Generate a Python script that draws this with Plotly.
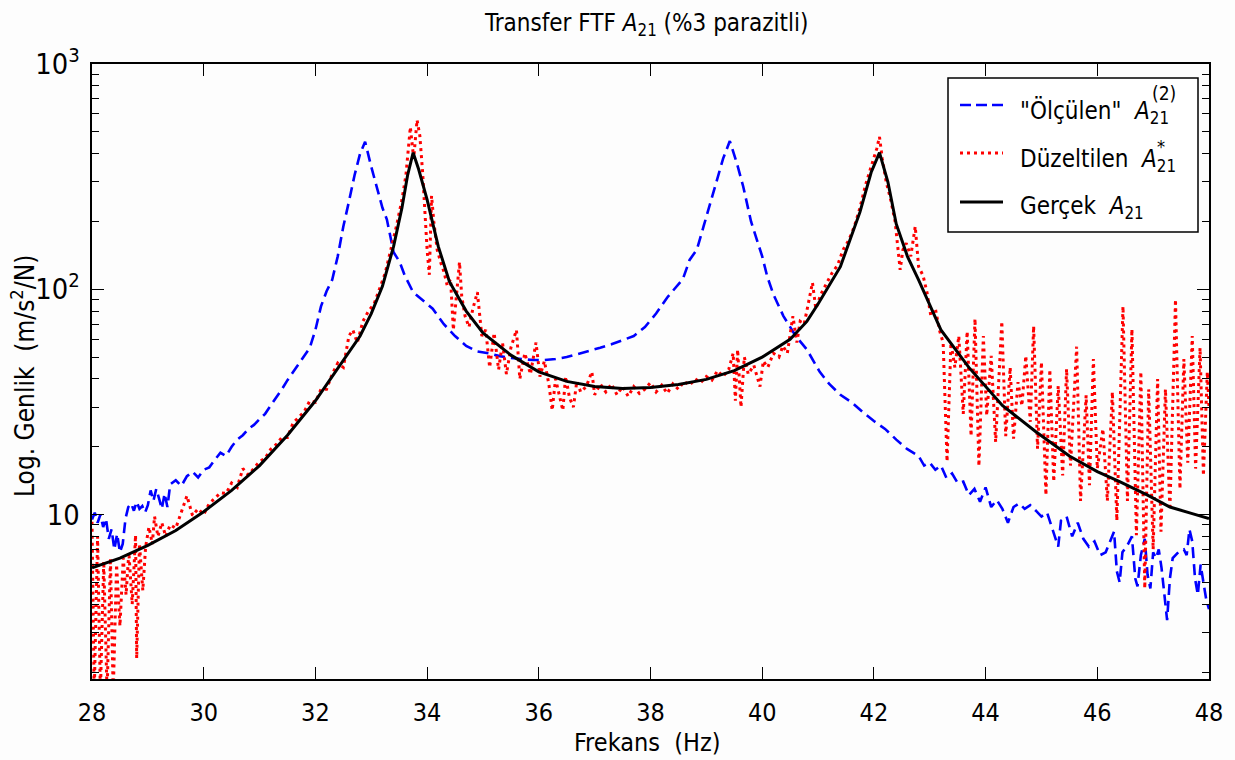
import plotly.graph_objects as go

# ---------------- data ----------------
# True FRF A21 (smooth)
true_freq = [28.0, 28.5, 29.0, 29.5, 30.0, 30.5, 31.0, 31.5, 32.0, 32.5, 32.8, 33.0, 33.2, 33.4,
             33.55, 33.65, 33.75, 33.85, 34.0, 34.2, 34.4, 34.7, 35.0, 35.5, 36.0, 36.5, 37.0,
             37.5, 38.0, 38.5, 39.0, 39.5, 40.0, 40.5, 40.8, 41.0, 41.4, 41.75, 41.95, 42.1,
             42.25, 42.4, 42.6, 42.8, 43.06, 43.2, 43.7, 44.3, 44.9, 45.5, 46.0, 46.4, 46.9,
             47.3, 47.7, 48.0]
true_amp = [5.8, 6.4, 7.3, 8.5, 10.3, 12.8, 16.5, 22.5, 32, 48, 62, 78, 103, 155,
            230, 320, 404, 340, 250, 155, 108, 80, 64, 51, 43, 39, 37,
            36.3, 36.6, 37.8, 39.8, 43.5, 50, 60, 72, 86, 126, 220, 330, 404,
            300, 195, 140, 110, 79, 66, 45, 30.5, 23.3, 18.2, 15.5, 14.0, 12.2,
            10.8, 10.1, 9.6]

# "Measured" FRF A21^(2)
meas_freq = [28.00, 28.05, 28.10, 28.15, 28.20, 28.25, 28.30, 28.35, 28.40, 28.45, 28.50, 28.55,
             28.60, 28.65, 28.70, 28.75, 28.80, 28.85, 28.90, 28.95, 29.00, 29.05, 29.10, 29.15,
             29.20, 29.25, 29.30, 29.35, 29.40, 29.50, 29.60, 29.70, 29.80, 29.90, 30.00, 30.10,
             30.20, 30.30, 30.40, 30.50, 30.60, 30.70, 30.80, 30.90, 31.00, 31.10, 31.20, 31.30,
             31.40, 31.50, 31.60, 31.70, 31.80, 31.90, 32.00, 32.10, 32.20, 32.30, 32.40, 32.50,
             32.60, 32.70, 32.80, 32.89, 33.00, 33.10, 33.20, 33.28, 33.40, 33.51, 33.60, 33.75,
             33.90, 34.10, 34.30, 34.50, 34.70, 34.90, 35.10, 35.30, 35.50, 35.70, 35.90, 36.10,
             36.30, 36.50, 36.70, 36.90, 37.10, 37.30, 37.50, 37.70, 37.90, 38.10, 38.30, 38.45,
             38.58, 38.70, 38.83, 38.95, 39.12, 39.30, 39.42, 39.55, 39.66, 39.80, 40.00, 40.09,
             40.20, 40.38, 40.60, 40.80, 41.03, 41.20, 41.40, 41.60, 41.80, 42.00, 42.20, 42.40,
             42.60, 42.80, 42.90, 43.00, 43.10, 43.20, 43.30, 43.40, 43.50, 43.60, 43.70, 43.80,
             43.90, 44.00, 44.10, 44.20, 44.30, 44.40, 44.50, 44.60, 44.70, 44.80, 44.90, 45.00,
             45.10, 45.20, 45.30, 45.35, 45.45, 45.55, 45.65, 45.75, 45.85, 45.95, 46.05, 46.15,
             46.25, 46.30, 46.35, 46.40, 46.45, 46.55, 46.62, 46.68, 46.72, 46.78, 46.85, 46.90,
             46.95, 47.00, 47.05, 47.10, 47.15, 47.20, 47.25, 47.30, 47.35, 47.45, 47.55, 47.60,
             47.65, 47.70, 47.75, 47.80, 47.85, 47.90, 47.95, 48.00]
meas_amp = [9.5, 10.2, 9.2, 10.0, 8.8, 9.6, 7.8, 8.6, 7.0, 8.2, 6.8, 7.4,
            9.6, 10.8, 11.2, 10.4, 11.4, 10.6, 10.9, 10.2, 11.0, 12.8, 11.5, 13.0,
            11.8, 10.6, 12.4, 10.8, 13.6, 14.2, 13.4, 14.8, 15.5, 14.6, 15.8, 16.2,
            17.5, 18.8, 18.2, 20.0, 21.5, 22.5, 24.0, 25.0, 26.5, 28.0, 30.5, 33.0,
            36.0, 39.5, 43.0, 47.0, 51.0, 55.0, 66.0, 84.0, 98.0, 110, 140, 190,
            245, 320, 400, 452, 350, 286, 230, 204, 146, 132, 115, 97,
            90, 82, 70, 62, 56, 53, 52, 50.5, 49.5, 49, 48.5, 48.5,
            49, 50, 51.5, 53, 55, 57, 59.5, 62, 68, 78, 92, 102,
            111, 135, 150, 190, 269, 380, 455, 360, 286, 200, 140, 114,
            95, 76, 62, 54, 43, 38, 34, 31.5, 28.5, 26, 24, 21.5,
            19.5, 18.2, 16.5, 17.0, 15.8, 16.5, 14.5, 15.2, 13.8, 14.0, 12.2, 13.0,
            11.4, 13.2, 10.8, 11.6, 10.6, 9.2, 10.8, 11.2, 10.6, 11.0, 10.4, 9.8,
            10.2, 8.6, 7.2, 9.4, 9.8, 8.0, 9.2, 7.8, 7.2, 7.6, 6.6, 6.8,
            7.8, 8.4, 5.6, 5.0, 6.8, 7.4, 8.0, 5.2, 4.8, 6.6, 7.8, 5.4,
            4.7, 6.8, 6.4, 7.0, 5.8, 4.4, 3.4, 5.2, 6.4, 6.8, 7.0, 6.6,
            8.6, 7.6, 5.2, 4.4, 6.0, 5.0, 4.2, 3.8]

# Corrected FRF A*21
corr_freq = [28.00, 28.04, 28.10, 28.15, 28.21, 28.27, 28.33, 28.38, 28.44, 28.50, 28.56, 28.61,
             28.66, 28.72, 28.78, 28.80, 28.85, 28.91, 28.96, 29.02, 29.08, 29.12, 29.18, 29.25,
             29.32, 29.40, 29.50, 29.60, 29.70, 29.80, 29.90, 30.00, 30.10, 30.20, 30.30, 30.40,
             30.50, 30.60, 30.70, 30.80, 30.90, 31.00, 31.10, 31.20, 31.30, 31.40, 31.50, 31.60,
             31.70, 31.80, 31.90, 32.00, 32.10, 32.20, 32.30, 32.40, 32.50, 32.60, 32.67, 32.75,
             32.85, 32.95, 33.05, 33.15, 33.25, 33.35, 33.45, 33.55, 33.62, 33.70, 33.76, 33.82,
             33.87, 33.92, 34.00, 34.04, 34.08, 34.12, 34.18, 34.25, 34.30, 34.36, 34.42, 34.47,
             34.52, 34.58, 34.62, 34.68, 34.75, 34.82, 34.90, 34.98, 35.05, 35.12, 35.20, 35.28,
             35.35, 35.42, 35.50, 35.60, 35.66, 35.75, 35.85, 35.95, 36.02, 36.10, 36.18, 36.24,
             36.30, 36.37, 36.43, 36.48, 36.55, 36.62, 36.68, 36.75, 36.85, 36.95, 37.00, 37.10,
             37.20, 37.30, 37.40, 37.50, 37.60, 37.70, 37.80, 37.90, 38.00, 38.10, 38.20, 38.30,
             38.40, 38.50, 38.60, 38.70, 38.80, 38.90, 39.00, 39.10, 39.20, 39.30, 39.40, 39.48,
             39.52, 39.56, 39.62, 39.68, 39.75, 39.85, 39.96, 40.02, 40.10, 40.20, 40.30, 40.37,
             40.45, 40.55, 40.62, 40.68, 40.75, 40.82, 40.90, 40.96, 41.05, 41.15, 41.25, 41.35,
             41.45, 41.55, 41.65, 41.75, 41.85, 41.95, 42.05, 42.10, 42.15, 42.22, 42.30, 42.38,
             42.47, 42.52, 42.58, 42.66, 42.74, 42.80, 42.88, 42.95, 43.02, 43.10, 43.18, 43.24,
             43.31, 43.38, 43.45, 43.52, 43.60, 43.67, 43.74, 43.81, 43.88, 43.96, 44.02, 44.10,
             44.18, 44.29, 44.36, 44.44, 44.50, 44.58, 44.65, 44.72, 44.80, 44.86, 44.93, 45.00,
             45.08, 45.15, 45.22, 45.30, 45.38, 45.45, 45.52, 45.63, 45.70, 45.80, 45.86, 45.93,
             46.00, 46.10, 46.18, 46.27, 46.35, 46.46, 46.54, 46.62, 46.70, 46.78, 46.85, 46.92,
             47.00, 47.08, 47.14, 47.22, 47.30, 47.40, 47.48, 47.55, 47.62, 47.70, 47.76, 47.84,
             47.90, 47.97, 48.00]
corr_amp = [9.3, 1.6, 8.0, 1.6, 6.2, 1.6, 6.4, 1.6, 6.0, 3.2, 6.4, 4.4,
            6.8, 4.0, 8.1, 2.3, 7.4, 4.6, 7.2, 8.8, 7.4, 9.8, 8.0, 9.2,
            8.0, 9.0, 8.7, 10.2, 12.1, 9.9, 10.6, 10.0, 11.2, 11.8, 12.5, 12.4,
            13.8, 13.2, 16.0, 15.0, 16.0, 17.2, 17.8, 19.5, 20.5, 22.0, 22.0, 25.5,
            27.0, 28.6, 32.0, 31.5, 36.0, 36.0, 42.0, 47.0, 45.0, 62.0, 66.0, 58.0,
            72.0, 80.0, 86.0, 100, 118, 150, 190, 250, 320, 525, 380, 565,
            480, 330, 150, 116, 260, 200, 150, 130, 120, 104, 111, 66,
            90, 132, 93, 76, 68, 82, 97, 62, 66, 45, 64, 44,
            58, 42, 55, 66, 40, 52, 42, 58, 41, 48, 38, 29,
            40, 34, 29, 41, 33, 30, 39, 35, 37, 43, 34, 38,
            35, 38, 34, 37, 33.5, 37, 34.5, 36, 38.5, 35, 37.5, 34.5,
            38, 36, 39, 37.5, 40, 38.5, 41, 39.5, 43.5, 41, 44, 52,
            32, 54, 30, 50, 42, 46, 37, 48, 45, 52, 50, 56,
            52, 76, 58, 72, 70, 85, 107, 82, 95, 106, 118, 128,
            150, 165, 190, 230, 290, 350, 420, 475, 380, 300, 250, 200,
            122, 150, 160, 140, 190, 126, 115, 97, 76, 82, 65, 58,
            17.2, 58, 45, 62, 28, 65, 22.3, 74, 16.4, 62, 27.5, 50.6,
            21, 72, 22.3, 45, 21.7, 38.7, 30.4, 50.6, 25.8, 68.6, 19.6, 47.5,
            12.2, 44, 14.0, 37.2, 14.9, 44.3, 16.5, 55.6, 11.5, 33.8, 13.5, 49,
            16.0, 24, 11.5, 35, 9.4, 84, 11.5, 66.5, 8.1, 43, 4.7, 36,
            7.0, 40, 8.4, 36, 10.5, 90, 13, 49, 17, 62, 16, 55,
            14.9, 43, 30]

x_ticks = [28, 30, 32, 34, 36, 38, 40, 42, 44, 46, 48]

# ---------------- figure ----------------
FONT = "Liberation Sans Narrow, DejaVu Sans Condensed, Arial Narrow, Liberation Sans, Arial, sans-serif"
W, H = 1235, 760
L, R, T, B = 92, 26, 64, 81
PW, PH = W - L - R, H - T - B


def px(xp):
    return (xp - L) / PW


def py(yp):
    return (H - B - yp) / PH


fig = go.Figure()
fig.add_trace(go.Scatter(x=meas_freq, y=meas_amp, mode="lines",
                         line=dict(color="#0000ff", width=2.6, dash="11px,6px"),
                         showlegend=False))
fig.add_trace(go.Scatter(x=corr_freq, y=corr_amp, mode="lines",
                         line=dict(color="#ff0000", width=3, dash="3px,4px"),
                         showlegend=False))
fig.add_trace(go.Scatter(x=true_freq, y=true_amp, mode="lines",
                         line=dict(color="#000000", width=3),
                         showlegend=False))

axis_common = dict(showline=True, linecolor="black", linewidth=1.5, mirror="ticks",
                   ticks="inside", tickcolor="black", tickwidth=1.3, ticklen=12,
                   showgrid=False, zeroline=False)

fig.update_xaxes(range=[28, 48], tickvals=x_ticks, ticktext=[str(v) for v in x_ticks],
                 ticklabelstandoff=10, tickfont=dict(family=FONT, size=25, color="black"),
                 **axis_common)
fig.update_yaxes(type="log", range=[0.27, 3], dtick=1, exponentformat="power",
                 ticklabelstandoff=6, tickfont=dict(family=FONT, size=23, color="black"),
                 minor=dict(ticks="inside", ticklen=7, tickcolor="black", tickwidth=1.2,
                            dtick="D1", showgrid=False),
                 **axis_common)

annotations = [
    dict(text="Transfer FTF <i>A</i><sub>21</sub> (%3 parazitli)", x=px(646), y=py(25),
         xanchor="center", yanchor="middle", font=dict(size=24)),
    dict(text="Frekans  (Hz)", x=px(647), y=py(742), xanchor="center", yanchor="middle",
         font=dict(size=25)),
    dict(text="Log. Genlik  (m/s<sup>2</sup>/N)", x=px(23), y=py(376), textangle=-90,
         xanchor="center", yanchor="middle", font=dict(size=26)),
    # legend texts
    dict(text='"Ölçülen"  <i>A</i><sub>21</sub>', x=px(1018), y=py(112), xanchor="left",
         yanchor="middle", font=dict(size=24)),
    dict(text="(2)", x=px(1150), y=py(93), xanchor="left", yanchor="middle",
         font=dict(size=19)),
    dict(text="Düzeltilen  <i>A</i><sub>21</sub>", x=px(1018), y=py(160), xanchor="left",
         yanchor="middle", font=dict(size=24)),
    dict(text="*", x=px(1155), y=py(146), xanchor="left", yanchor="middle",
         font=dict(size=18)),
    dict(text="Gerçek  <i>A</i><sub>21</sub>", x=px(1018), y=py(207), xanchor="left",
         yanchor="middle", font=dict(size=24)),
]
for a in annotations:
    a.update(xref="paper", yref="paper", showarrow=False)
    a["font"] = dict(family=FONT, color="black", size=a["font"]["size"])

shapes = [
    dict(type="rect", x0=px(948), x1=px(1198), y0=py(232), y1=py(78),
         line=dict(color="black", width=1.5), fillcolor="white", layer="above"),
    dict(type="line", x0=px(960), x1=px(1003), y0=py(105), y1=py(105),
         line=dict(color="#0000ff", width=2.6, dash="11px,5px")),
    dict(type="line", x0=px(960), x1=px(1003), y0=py(153), y1=py(153),
         line=dict(color="#ff0000", width=3, dash="3px,4px")),
    dict(type="line", x0=px(960), x1=px(1003), y0=py(202), y1=py(202),
         line=dict(color="#000000", width=3)),
]
for s in shapes:
    s.update(xref="paper", yref="paper")
    s.setdefault("layer", "above")

fig.update_layout(width=W, height=H, margin=dict(l=L, r=R, t=T, b=B, pad=0),
                  paper_bgcolor="#fdfdfd", plot_bgcolor="#fdfdfd",
                  font=dict(family=FONT, color="black"),
                  annotations=annotations, shapes=shapes, showlegend=False)

fig.write_html("out.html")
